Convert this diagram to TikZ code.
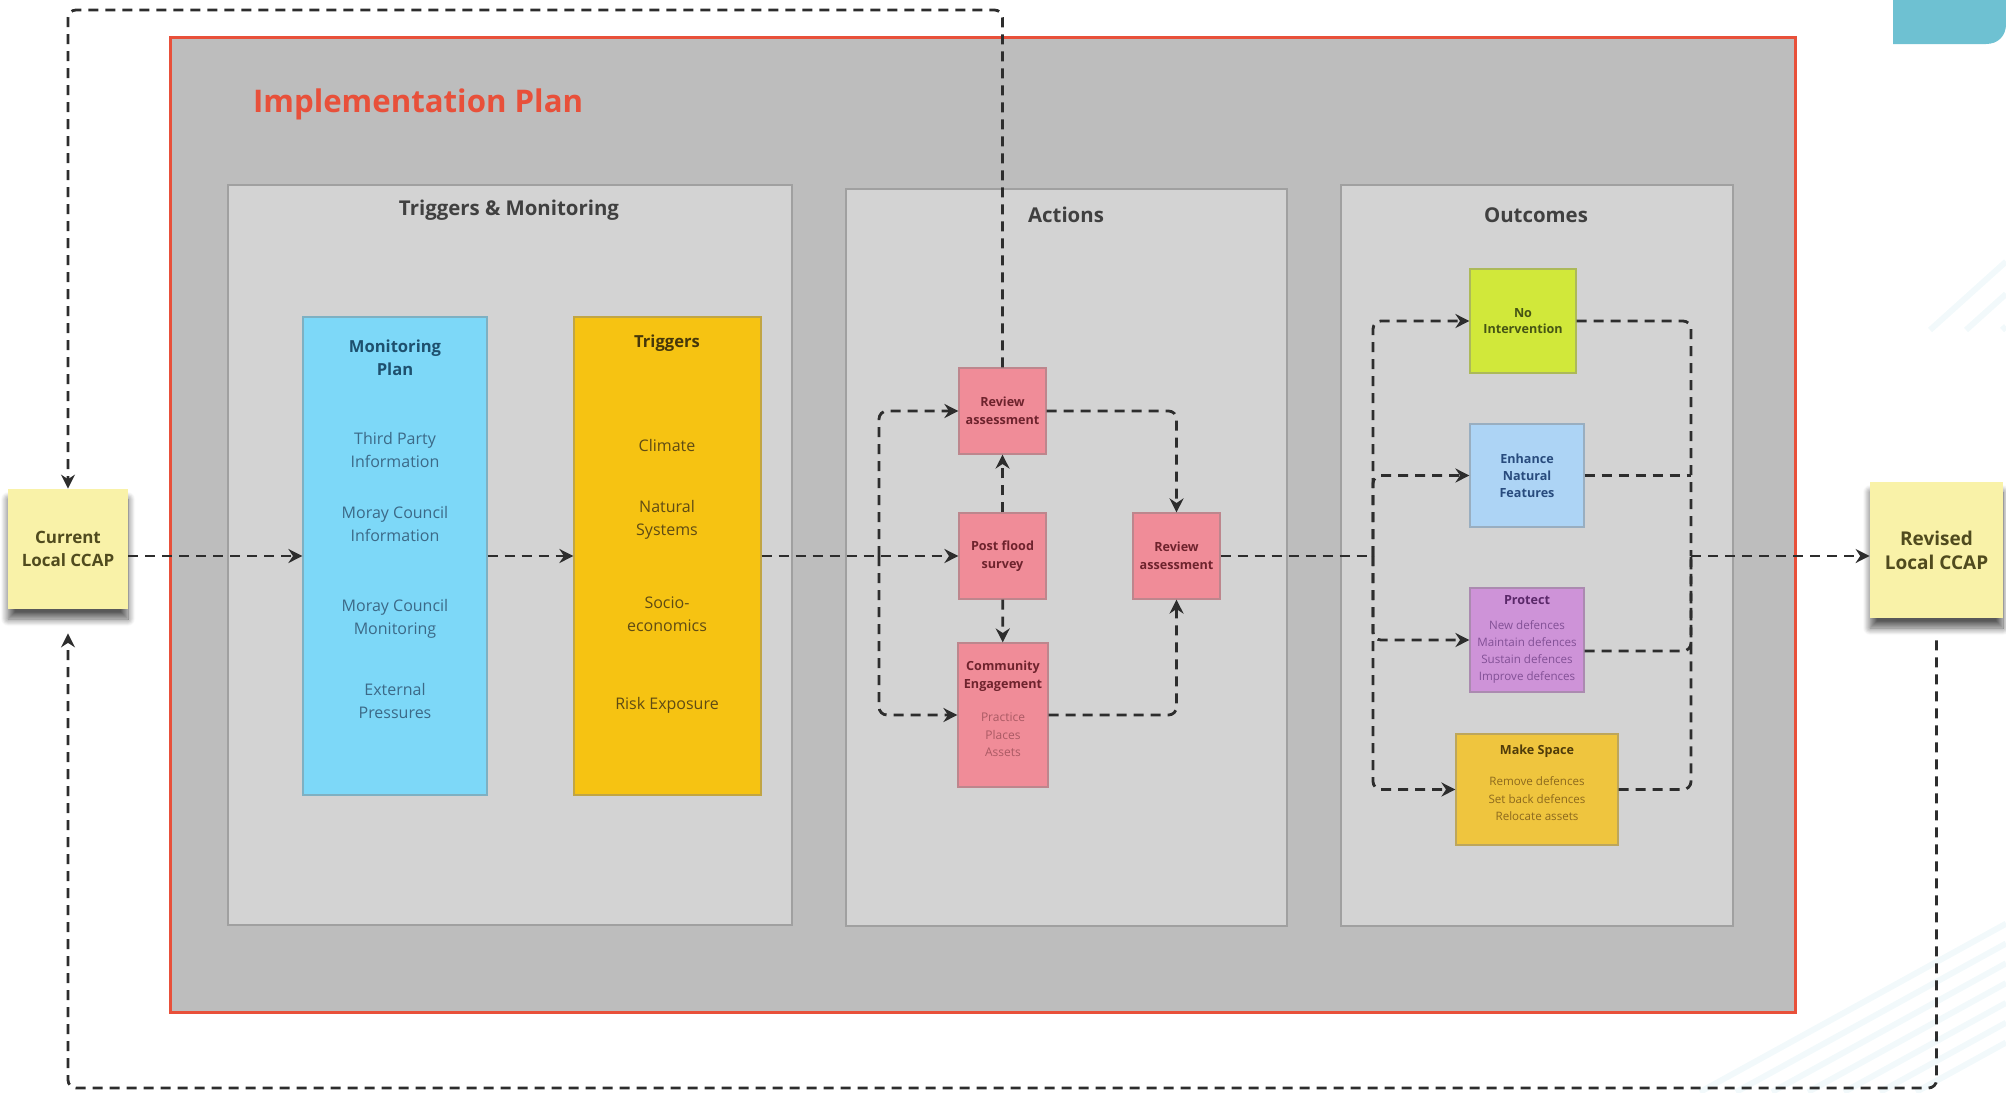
\documentclass[tikz,border=0pt]{standalone}
\usepackage{fontspec}
\setmainfont{Open Sans}
\usepackage{xcolor}
\definecolor{planred}{RGB}{232,80,58}
\definecolor{framegray}{RGB}{189,189,189}
\definecolor{panelgray}{RGB}{211,211,211}
\definecolor{paneledge}{RGB}{160,160,160}
\definecolor{notefill}{RGB}{249,242,168}
\definecolor{notetext}{RGB}{80,75,30}
\definecolor{monblue}{RGB}{125,216,248}
\definecolor{montext}{RGB}{30,80,110}
\definecolor{monitem}{RGB}{60,105,135}
\definecolor{trigamber}{RGB}{246,195,18}
\definecolor{trigtext}{RGB}{70,55,10}
\definecolor{trigitem}{RGB}{95,75,20}
\definecolor{actpink}{RGB}{240,140,152}
\definecolor{acttext}{RGB}{110,35,45}
\definecolor{actitem}{RGB}{170,90,100}
\definecolor{nolime}{RGB}{209,232,58}
\definecolor{notext}{RGB}{70,85,20}
\definecolor{enhblue}{RGB}{173,212,245}
\definecolor{enhtext}{RGB}{40,75,125}
\definecolor{protviolet}{RGB}{206,147,216}
\definecolor{prottext}{RGB}{90,40,105}
\definecolor{protitem}{RGB}{130,80,150}
\definecolor{makegold}{RGB}{239,197,62}
\definecolor{maketext}{RGB}{80,60,10}
\definecolor{makeitem}{RGB}{140,105,30}
\definecolor{linkgray}{RGB}{45,45,45}
\definecolor{tabteal}{RGB}{110,193,210}
\usepackage{tikz}
\usetikzlibrary{positioning, arrows.meta, shadows.blur}
\newcommand{\boxfont}[2]{\fontsize{#1pt}{#2pt}\selectfont}

\begin{document}
\begin{tikzpicture}[
  x=0.5pt, y=-0.5pt,
  frame/.style={rectangle, draw=planred, line width=1.5pt, fill=framegray, inner sep=0pt},
  panel/.style={rectangle, draw=paneledge, fill=panelgray, line width=0.6pt, inner sep=0pt},
  ptitle/.style={font=\boxfont{10.2}{12}\bfseries, text=black!75},
  note/.style={rectangle, fill=notefill, align=center, inner sep=0pt, text=notetext, blur shadow={shadow xshift=0pt, shadow yshift=-5pt, shadow blur radius=3.5pt, shadow blur steps=10, shadow opacity=65}},
  cbox/.style={rectangle, fill=#1, draw=#1!55!gray, line width=0.6pt, inner sep=0pt},
  head/.style={align=center, font=\boxfont{8.3}{11.5}\bfseries},
  item/.style={align=center, font=\boxfont{8}{11.5}},
  act/.style={cbox=actpink, minimum width=43.5pt, minimum height=43pt, align=center, font=\boxfont{6.3}{9}\bfseries, text=acttext},
  stripe/.style={tabteal!9, line width=3pt},
  link/.style={linkgray, line width=1.4pt, dash pattern=on 5pt off 3.5pt, rounded corners=4pt},
  arr/.style={link, -{Stealth[length=7pt, width=7pt, inset=2.3pt]}}
]
\useasboundingbox (0,0) rectangle (2006,1092);

% background
\foreach \s in {0,36,...,216}
  \draw[stripe] ({1700+\s},1092) -- (2006,{1092-0.55*(306-\s)});
\foreach \s in {0,36,72}
  \draw[stripe] ({1930+\s},330) -- (2006,{330-0.9*(76-\s)});
\fill[tabteal] (1893,0) -- (1893,44) -- (1986,44) .. controls (1998,44) and (2006,36) .. (2006,24) -- (2006,0) -- cycle;

% implementation plan frame and panels
\node[frame, minimum width=812.5pt, minimum height=487.5pt] (plan) at (982.5,524.5) {};
\node[anchor=west, font=\boxfont{15.6}{18}\bfseries, text=planred] (plantitle) at (246,104) {Implementation Plan};

\node[panel, minimum width=282pt, minimum height=370pt] (tm) at (510,555) {};
\node[panel, minimum width=220.5pt, minimum height=368.5pt] (act) at (1066.5,557.5) {};
\node[panel, minimum width=196pt, minimum height=370.5pt] (out) at (1537,555.5) {};
\node[ptitle] (tmlabel) at (509,210) {Triggers \& Monitoring};
\node[ptitle] (actlabel) at (1066,215) {Actions};
\node[ptitle] (outlabel) at (1536,215) {Outcomes};

% local CCAP notes
\node[note, minimum width=60pt, minimum height=60pt, font=\boxfont{8.5}{11.5}\bfseries] (cur) at (68,549) {Current\\Local CCAP};
\node[note, minimum width=66.5pt, minimum height=68pt, font=\boxfont{9.5}{12}\bfseries] (rev) at (1936.5,550) {Revised\\Local CCAP};

% triggers & monitoring
\node[cbox=monblue, minimum width=92pt, minimum height=239pt] (mon) at (395,556) {};
\node[head, text=montext] (monhead) at (395,358) {Monitoring\\Plan};
\node[item, text=monitem] (mon1) at (395,450) {Third Party\\Information};
\node[item, text=monitem] (mon2) at (395,524) {Moray Council\\Information};
\node[item, text=monitem] (mon3) at (395,619) {Moray Council\\Monitoring};
\node[item, text=monitem] (mon4) at (395,701) {External\\Pressures};

\node[cbox=trigamber, minimum width=93.5pt, minimum height=239pt] (trig) at (667.5,556) {};
\node[head, text=trigtext] (trighead) at (667,343) {Triggers};
\node[item, text=trigitem] (trig1) at (667,445) {Climate};
\node[item, text=trigitem] (trig2) at (667,520) {Natural\\Systems};
\node[item, text=trigitem] (trig3) at (667,614) {Socio-\\economics};
\node[item, text=trigitem] (trig4) at (667,705) {Risk Exposure};

% actions
\node[act] (rev1) at (1002.5,411) {Review\\assessment};
\node[act] (post) at (1002.5,556) {Post flood\\survey};
\node[act] (rev2) at (1176.5,556) {Review\\assessment};
\node[cbox=actpink, minimum width=45pt, minimum height=72pt] (comm) at (1003,715) {};
\node[align=center, font=\boxfont{6.3}{9}\bfseries, text=acttext] (commhead) at (1003,676) {Community\\Engagement};
\node[align=center, font=\boxfont{6}{8.7}, text=actitem] (commlist) at (1003,735) {Practice\\Places\\Assets};

% outcomes
\node[cbox=nolime, minimum width=53pt, minimum height=52pt, align=center, font=\boxfont{6.3}{8}\bfseries, text=notext] (noint) at (1523,321) {No\\Intervention};
\node[cbox=enhblue, minimum width=57pt, minimum height=51.5pt, align=center, font=\boxfont{6.3}{8.5}\bfseries, text=enhtext] (enh) at (1527,475.5) {Enhance\\Natural\\Features};
\node[cbox=protviolet, minimum width=57pt, minimum height=52pt] (prot) at (1527,640) {};
\node[font=\boxfont{6.3}{8}\bfseries, text=prottext] (prothead) at (1527,600) {Protect};
\node[align=center, font=\boxfont{5.8}{8.6}, text=protitem] (protlist) at (1527,652) {New defences\\Maintain defences\\Sustain defences\\Improve defences};
\node[cbox=makegold, minimum width=81pt, minimum height=55.5pt] (make) at (1537,789.5) {};
\node[font=\boxfont{6.3}{8}\bfseries, text=maketext] (makehead) at (1537,751) {Make Space};
\node[align=center, font=\boxfont{5.8}{8.7}, text=makeitem] (makelist) at (1537,799) {Remove defences\\Set back defences\\Relocate assets};

% junctions
\coordinate (jin) at (879,556);
\coordinate (jout) at (1373,556);
\coordinate (jright) at (1691,556);
\coordinate (ttop) at (68,10);
\coordinate (bbot) at (68,1088);

% connectors
\draw[arr] (cur.east |- mon.west) -- (mon.west);
\draw[arr] (mon.east) -- (trig.west);
\draw[arr] (trig.east) -- (post.west);
\draw[arr] (jin) |- (rev1.west);
\draw[arr] (jin) |- (comm.west);
\draw[arr] (post) -- (rev1);
\draw[arr] (post) -- (comm);
\draw[arr] (rev1.east) -| (rev2.north);
\draw[arr] (comm.east) -| (rev2.south);
\draw[arr] (rev1.north) |- (ttop) -- (cur.north);
\draw[arr] ([yshift=-11pt]rev.south) |- (bbot) -- ([yshift=-12pt]cur.south);

\draw[link] (rev2.east) -- (jout);
\draw[arr] (jout) |- (noint.west);
\draw[arr] (jout) |- (enh.west);
\draw[arr] (jout) |- (prot.west);
\draw[arr] (jout) |- (make.west);
\draw[link] (noint.east) -| (jright);
\draw[link] (enh.east) -- (enh.east -| jright);
\draw[link] ([yshift=-5.5pt]prot.east) -| (jright);
\draw[link] (make.east) -| (jright);
\draw[arr] (jright) -- (jright -| rev.west);
\end{tikzpicture}
\end{document}
